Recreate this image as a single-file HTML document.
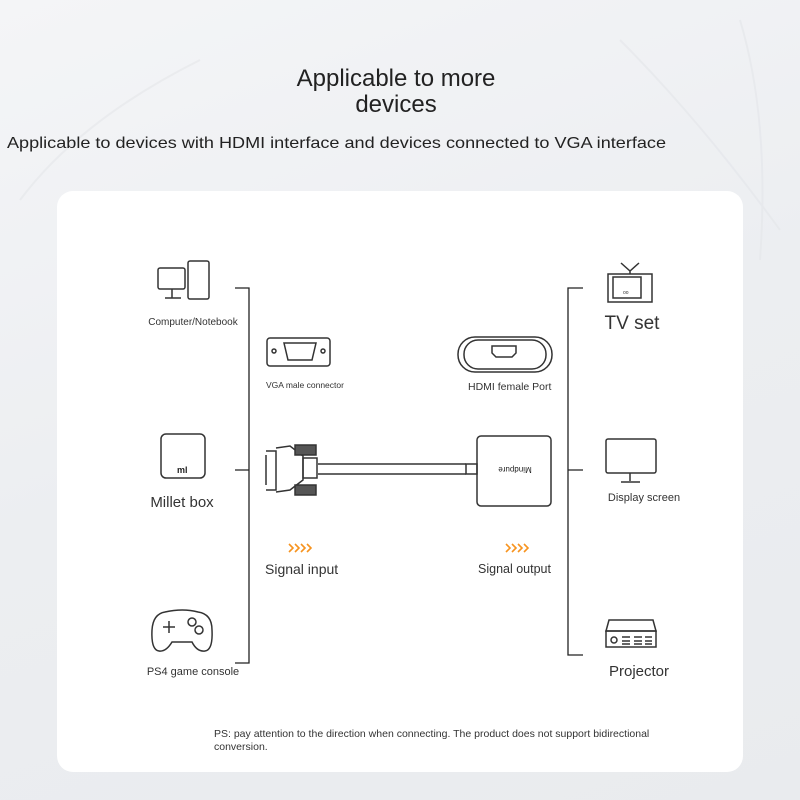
<!DOCTYPE html>
<html><head><meta charset="utf-8"><style>
html,body{margin:0;padding:0;width:800px;height:800px;overflow:hidden}
body{background:linear-gradient(160deg,#f4f5f7 0%,#eceef1 50%,#e9ebee 100%);font-family:"Liberation Sans",sans-serif}
</style></head><body>
<svg width="800" height="800" viewBox="0 0 800 800" xmlns="http://www.w3.org/2000/svg" font-family="Liberation Sans, sans-serif">
<g fill="none" stroke="#e4e6ea" stroke-width="2" opacity="0.6">
<path d="M620 40 Q700 120 780 230"/><path d="M740 20 Q770 120 760 260"/><path d="M20 200 Q80 120 200 60"/>
</g>
<text x="396" y="86" font-size="24" text-anchor="middle" fill="#222">Applicable to more</text>
<text x="396" y="112" font-size="24" text-anchor="middle" fill="#222">devices</text>
<text x="7" y="148" font-size="16" fill="#222" textLength="659" lengthAdjust="spacingAndGlyphs">Applicable to devices with HDMI interface and devices connected to VGA interface</text>
<rect x="57" y="191" width="686" height="581" rx="16" fill="#fff"/>
<g stroke="#222" stroke-width="1.3" fill="none">
<path d="M235 288H249V663H235M249 470H235"/>
<path d="M583 288H568V655H583M568 470H583"/>
</g>
<g stroke="#333" stroke-width="1.5" fill="none">
<rect x="188" y="261" width="21" height="38" rx="2"/>
<rect x="158" y="268" width="27" height="21" rx="2" fill="#fff"/>
<path d="M172 289V298M165 298H181"/>
<rect x="161" y="434" width="44" height="44" rx="5"/>
<path d="M165 612 Q183 608 198 612 Q212 614 212 630 Q213 650 205 651 Q197 652 192 642 H172 Q166 652 159 651 Q151 650 152 630 Q153 614 165 612Z"/>
<path d="M163 627H175M169 621V633"/>
<circle cx="192" cy="622" r="4"/><circle cx="199" cy="630" r="4"/>
<rect x="608" y="274" width="44" height="28"/>
<rect x="613" y="277" width="28" height="21"/>
<path d="M621 263L630 271L639 263M630 271V274"/>
<rect x="606" y="439" width="50" height="34" rx="2"/>
<path d="M630 473V481M621 482H640"/>
<path d="M609 620H653L656 631H606Z"/>
<rect x="606" y="631" width="50" height="16"/>
<circle cx="614" cy="640" r="3"/>
<path d="M622 637h8M622 641h8M622 644h8M634 637h8M634 641h8M634 644h8M645 637h7M645 641h7M645 644h7"/>
<rect x="267" y="338" width="63" height="28" rx="3"/>
<path d="M284 343H316L312 360H288Z"/>
<circle cx="274" cy="351" r="2"/><circle cx="323" cy="351" r="2"/>
<rect x="458" y="337" width="94" height="35" rx="17"/>
<rect x="464" y="340" width="82" height="29" rx="14"/>
<path d="M492 346H516V353L512 357H496L492 353Z"/>
<rect x="477" y="436" width="74" height="70" rx="4"/>
<rect x="466" y="464" width="11" height="10"/>
<path d="M318 464H466M318 474H466"/>
<path d="M266 455V485M266 451H276V490H266M276 448L290 446L303 456V480L290 490L276 492"/>
<rect x="303" y="458" width="14" height="20"/>
<rect x="295" y="445" width="21" height="10" fill="#555"/>
<rect x="295" y="485" width="21" height="10" fill="#555"/>
</g>
<g stroke="#f7931e" stroke-width="1.6" fill="none">
<path d="M289 544l4 4l-4 4M295 544l4 4l-4 4M301 544l4 4l-4 4M307 544l4 4l-4 4"/>
<path d="M506 544l4 4l-4 4M512 544l4 4l-4 4M518 544l4 4l-4 4M524 544l4 4l-4 4"/>
</g>
<text x="177" y="473" font-size="9" font-weight="bold" fill="#222">ml</text>
<text x="623" y="294" font-size="5" fill="#333">oo</text>
<text x="515" y="473" font-size="8" text-anchor="middle" fill="#222" transform="rotate(180 515 470)">Mindpure</text>
<text x="193" y="325" font-size="10" text-anchor="middle" fill="#333">Computer/Notebook</text>
<text x="182" y="507" font-size="15" text-anchor="middle" fill="#333">Millet box</text>
<text x="193" y="675" font-size="11" text-anchor="middle" fill="#333">PS4 game console</text>
<text x="632" y="329" font-size="19" text-anchor="middle" fill="#333">TV set</text>
<text x="644" y="501" font-size="11" text-anchor="middle" fill="#333">Display screen</text>
<text x="639" y="676" font-size="15" text-anchor="middle" fill="#333">Projector</text>
<text x="266" y="388" font-size="8.5" fill="#333">VGA male connector</text>
<text x="468" y="390" font-size="10.5" fill="#333">HDMI female Port</text>
<text x="265" y="574" font-size="14" fill="#333">Signal input</text>
<text x="478" y="573" font-size="12.5" fill="#333">Signal output</text>
<text x="214" y="737" font-size="10.5" fill="#333">PS: pay attention to the direction when connecting. The product does not support bidirectional</text>
<text x="214" y="750" font-size="10.5" fill="#333">conversion.</text>
</svg>
</body></html>
